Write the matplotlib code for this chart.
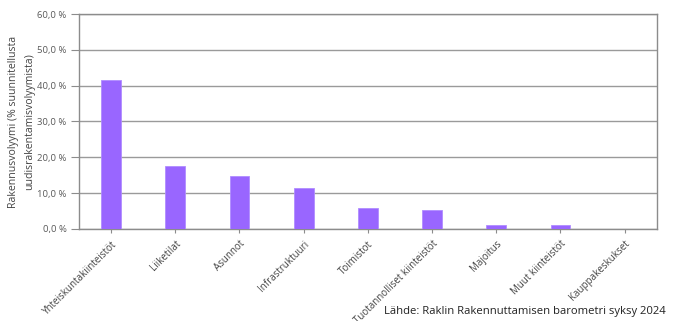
import matplotlib
matplotlib.use('Agg')
import matplotlib.pyplot as plt
from matplotlib.ticker import FuncFormatter

# Luokat ja arvot (% suunnitellusta uudisrakentamisvolyymista)
categories = ['Yhteiskuntakiinteistöt', 'Liiketilat', 'Asunnot', 'Infrastruktuuri',
              'Toimistot', 'Tuotannolliset kiinteistöt', 'Majoitus',
              'Muut kiinteistöt', 'Kauppakeskukset']
values = [41.7, 17.6, 14.9, 11.5, 5.8, 5.3, 1.0, 1.0, 0.0]
yticks = [0, 10, 20, 30, 40, 50, 60]

plt.rcParams['font.family'] = ['Open Sans', 'DejaVu Sans']

fig = plt.figure(figsize=(6.75, 3.21), dpi=100)
ax = fig.add_axes([0.117, 0.287, 0.856, 0.669])

x = list(range(len(categories)))
ax.bar(x, values, width=0.31, color='#9966ff', edgecolor='#b08cff', linewidth=0.6, zorder=3)

ax.set_xlim(-0.5, len(categories) - 0.5)
ax.set_ylim(0, 60)
ax.set_yticks(yticks)
ax.yaxis.set_major_formatter(FuncFormatter(lambda v, p: f'{v:.1f} %'.replace('.', ',')))
ax.yaxis.grid(True, color='#9a9a9a', linewidth=1.0, zorder=0)

ax.set_xticks(x)
ax.set_xticklabels(categories, rotation=45, ha='right', rotation_mode='anchor')

for s in ax.spines.values():
    s.set_color('#8c8c8c')
    s.set_linewidth(1.0)

ax.tick_params(axis='y', length=6, color='#8c8c8c', labelsize=6.8, labelcolor='#595959', pad=3)
ax.tick_params(axis='x', length=3, color='#8c8c8c', labelsize=7, labelcolor='#444444', pad=4)

ax.set_ylabel('Rakennusvolyymi (% suunnitellusta\nuudisrakentamisvolyymista)',
              fontsize=7.6, color='#444444', linespacing=1.6)
ax.yaxis.set_label_coords(-0.076, 0.5)

fig.text(0.986, 0.012, 'Lähde: Raklin Rakennuttamisen barometri syksy 2024',
         ha='right', va='bottom', fontsize=8.1, color='#222222',
         bbox=dict(facecolor='white', edgecolor='none', pad=1.5), zorder=10)

fig.savefig('out.png', dpi=100)
plt.close()
